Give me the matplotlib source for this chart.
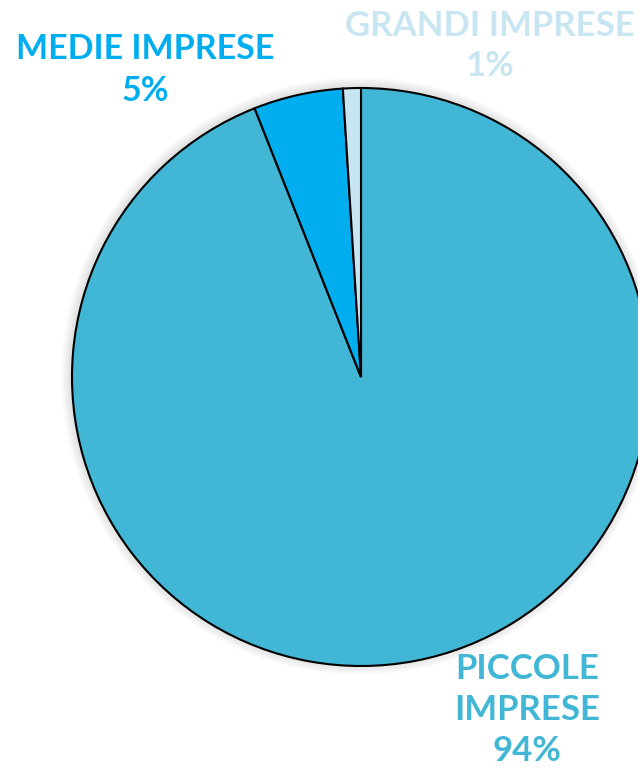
import matplotlib.pyplot as plt
from matplotlib.patches import Circle

labels = ['PICCOLE\nIMPRESE', 'MEDIE IMPRESE', 'GRANDI IMPRESE']
values = [94, 5, 1]
colors = ['#42B6D5', '#00AEEF', '#C8E6F1']

W, H = 638, 770

fig = plt.figure(figsize=(W / 100, H / 100), dpi=100)
ax = fig.add_axes([0, 0, 1, 1])

cx, cy, r = 361, H - 377, 289

# soft shadow around the pie
for i in range(10):
    ax.add_patch(Circle((cx - 1, cy + 1), r + 1 + i, color='black',
                        alpha=0.012, lw=0, zorder=0))

ax.pie(values, colors=colors, startangle=90, counterclock=False,
       center=(cx, cy), radius=r, frame=True,
       wedgeprops=dict(edgecolor='black', linewidth=1.5, zorder=2))
ax.set_xlim(0, W)
ax.set_ylim(0, H)
ax.set_aspect('equal')
ax.axis('off')

font = dict(family=['Lato', 'DejaVu Sans'], fontweight='bold',
            ha='center', va='center')

# label positions in pixel coords (from top), line spacing, size
pos = [(527, 710), (145, 70), (490, 46)]
spacing = [1.33, 1.37, 1.34]
sizes = [25, 24.5, 25]
for lab, v, c, (x, y), ls, fs in zip(labels, values, colors, pos, spacing, sizes):
    ax.text(x, H - y, '%s\n%d%%' % (lab, v), color=c, linespacing=ls,
            fontsize=fs, **font)

fig.savefig('out.png', dpi=100)
